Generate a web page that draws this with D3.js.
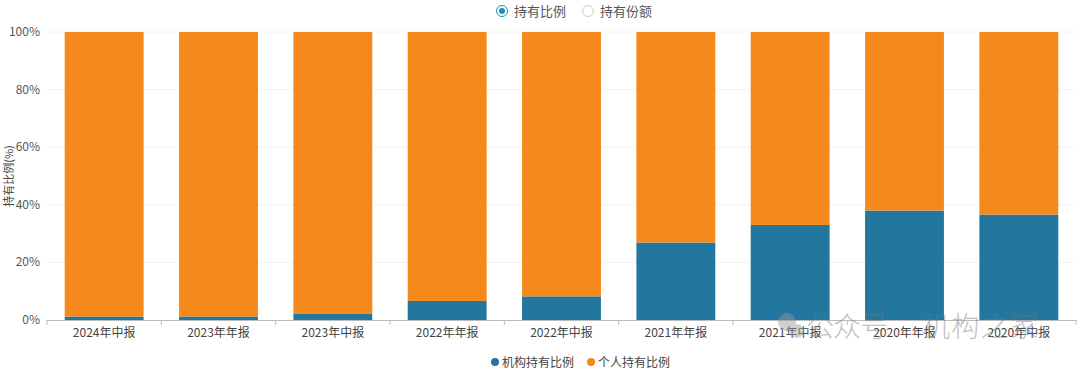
<!DOCTYPE html>
<html>
<head>
<meta charset="utf-8">
<script src="https://cdn.jsdelivr.net/npm/d3@7"></script>
<style>
  body { margin: 0; background: #fff; }
  svg { font-family: "Noto Sans CJK SC", "Noto Sans", sans-serif; }
</style>
</head>
<body>
<div id="chart"></div>
<script>
// report periods
const periods = ['2024年中报', '2023年年报', '2023年中报', '2022年年报', '2022年中报',
                 '2021年年报', '2021年中报', '2020年年报', '2020年中报'];
// holder ratio (%)
const instRatio = [1.2, 1.2, 2.1, 6.6, 8.2, 26.9, 33.0, 38.0, 36.6];
const personRatio = instRatio.map(v => 100 - v);
const yTicks = [0, 20, 40, 60, 80, 100];

const width = 1080, height = 374;
const blue = '#23779f', orange = '#f5891c';

const svg = d3.select('#chart').append('svg').attr('width', width).attr('height', height);

const x = d3.scaleBand().domain(periods).range([47, 1076]).paddingInner(0.31).paddingOuter(0.155);
const y = d3.scaleLinear().domain([0, 100]).range([320, 32]);

// grid
svg.append('g').selectAll('line').data(yTicks.slice(1)).join('line')
  .attr('x1', 47).attr('x2', 1076)
  .attr('y1', d => y(d)).attr('y2', d => y(d))
  .attr('stroke', '#e6e6e6').attr('stroke-dasharray', '2,2');

// y labels
svg.append('g').selectAll('text').data(yTicks).join('text')
  .attr('x', 40).attr('y', d => y(d) + 4)
  .attr('text-anchor', 'end').attr('font-size', 12).attr('fill', '#555')
  .text(d => d + '%');

svg.append('text')
  .attr('transform', 'translate(13,176) rotate(-90)')
  .attr('text-anchor', 'middle').attr('font-size', 11).attr('fill', '#444')
  .text('持有比例(%)');

// bars
const stack = periods.map((p, i) => ({ p, inst: instRatio[i], person: personRatio[i] }));
svg.append('g').selectAll('rect').data(stack).join('rect')
  .attr('x', d => x(d.p)).attr('width', x.bandwidth())
  .attr('y', d => y(d.inst)).attr('height', d => y(0) - y(d.inst))
  .attr('fill', blue);
svg.append('g').selectAll('rect').data(stack).join('rect')
  .attr('x', d => x(d.p)).attr('width', x.bandwidth())
  .attr('y', d => y(d.inst + d.person)).attr('height', d => y(d.inst) - y(d.inst + d.person))
  .attr('fill', orange);

// x axis
const xa = svg.append('g');
xa.append('line').attr('x1', 47).attr('x2', 1076).attr('y1', 320.5).attr('y2', 320.5).attr('stroke', '#bbb');
const edges = periods.map(p => x(p) - x.step() * x.paddingInner() / 2).concat([1076]);
xa.selectAll('line.tick').data(edges).join('line').attr('class', 'tick')
  .attr('x1', d => d).attr('x2', d => d).attr('y1', 320).attr('y2', 325).attr('stroke', '#bbb');
xa.selectAll('text').data(periods).join('text')
  .attr('x', d => x(d) + x.bandwidth() / 2).attr('y', 337)
  .attr('text-anchor', 'middle').attr('font-size', 12).attr('fill', '#444')
  .text(d => d);

// top legend (radio)
const radio = svg.append('g');
radio.append('circle').attr('cx', 502).attr('cy', 11).attr('r', 5.5).attr('fill', '#fff').attr('stroke', '#1f8fb8').attr('stroke-width', 1);
radio.append('circle').attr('cx', 502).attr('cy', 11).attr('r', 3).attr('fill', '#1f8fb8');
radio.append('text').attr('x', 514).attr('y', 16).attr('font-size', 13).attr('fill', '#555').text('持有比例');
radio.append('circle').attr('cx', 588).attr('cy', 11).attr('r', 5.5).attr('fill', '#fff').attr('stroke', '#ccc');
radio.append('text').attr('x', 600).attr('y', 16).attr('font-size', 13).attr('fill', '#555').text('持有份额');

// bottom legend
const legend = [{ name: '机构持有比例', color: blue, x: 495 }, { name: '个人持有比例', color: orange, x: 591 }];
const lg = svg.append('g').selectAll('g').data(legend).join('g');
lg.append('circle').attr('cx', d => d.x).attr('cy', 362).attr('r', 4).attr('fill', d => d.color);
lg.append('text').attr('x', d => d.x + 7).attr('y', 366.5).attr('font-size', 12).attr('fill', '#444').text(d => d.name);

// watermark (overlaid on the image)
const wm = svg.append('g').attr('opacity', 0.45);
wm.append('circle').attr('cx', 787).attr('cy', 322).attr('r', 9).attr('fill', '#999');
wm.append('circle').attr('cx', 797).attr('cy', 331).attr('r', 7).attr('fill', '#999');
wm.append('text').attr('x', 806).attr('y', 337).attr('font-size', 28).attr('font-weight', 300)
  .attr('fill', '#777').attr('textLength', 82).text('公众号');
wm.append('text').attr('x', 922).attr('y', 337).attr('font-size', 28).attr('font-weight', 300)
  .attr('fill', '#777').attr('textLength', 116).text('机构之家');
</script>
</body>
</html>
